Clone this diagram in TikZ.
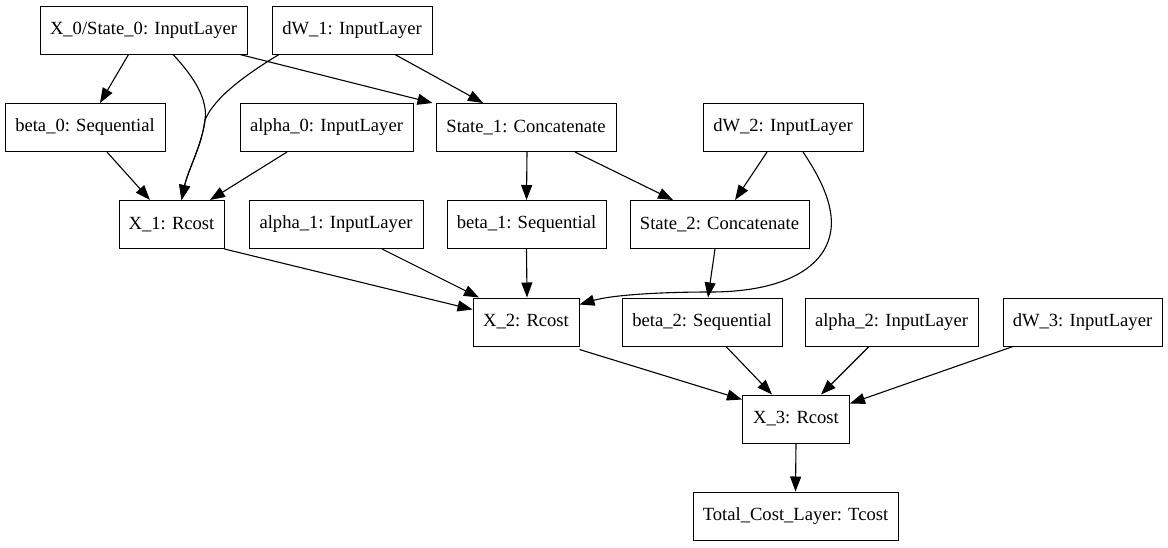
\documentclass[tikz,border=0pt]{standalone}
\usepackage{fontspec}
\setmainfont{Liberation Serif}
\usetikzlibrary{arrows.meta}
\begin{document}
\begin{tikzpicture}[x=1pt,y=-1pt,
  layer/.style={draw=black, line width=1pt, rectangle, minimum height=48pt, inner sep=0pt,
    font=\fontsize{18.6}{22}\selectfont},
  conn/.style={line width=1.1pt, -{Triangle[length=15pt,width=11pt]}}]
\useasboundingbox (0,0) rectangle (1168,547);
\fill[white] (0,0) rectangle (1168,547);
% row 1
\node[layer, minimum width=207pt] (x0) at (143.5,30) {X\_0/State\_0: InputLayer};
\node[layer, minimum width=160pt] (dw1) at (352,30) {dW\_1: InputLayer};
% row 2
\node[layer, minimum width=160pt] (beta0) at (85,127.5) {beta\_0: Sequential};
\node[layer, minimum width=173pt] (alpha0) at (326.5,127.5) {alpha\_0: InputLayer};
\node[layer, minimum width=180pt] (state1) at (526,127.5) {State\_1: Concatenate};
\node[layer, minimum width=160pt] (dw2) at (783,127.5) {dW\_2: InputLayer};
% row 3
\node[layer, minimum width=105pt] (x1) at (171.5,224.5) {X\_1: Rcost};
\node[layer, minimum width=174pt] (alpha1) at (336,224.5) {alpha\_1: InputLayer};
\node[layer, minimum width=159pt] (beta1) at (526.5,224.5) {beta\_1: Sequential};
\node[layer, minimum width=179pt] (state2) at (719.5,224.5) {State\_2: Concatenate};
% row 4
\node[layer, minimum width=106pt] (x2) at (526,322) {X\_2: Rcost};
\node[layer, minimum width=160pt] (beta2) at (702,322) {beta\_2: Sequential};
\node[layer, minimum width=173pt] (alpha2) at (891.5,322) {alpha\_2: InputLayer};
\node[layer, minimum width=159pt] (dw3) at (1082.5,322) {dW\_3: InputLayer};
% row 5
\node[layer, minimum width=107pt] (x3) at (796,419) {X\_3: Rcost};
% row 6
\node[layer, minimum width=205pt] (total) at (795.5,516) {Total\_Cost\_Layer: Tcost};
% edges
\draw[conn] ([xshift=-15pt]x0.south) -- ([xshift=15pt]beta0.north);
\draw[conn] ([xshift=29.5pt]x0.south) .. controls (195,78) and (208,100) .. (205,120)
   .. controls (202,145) and (188,170) .. ([xshift=10pt]x1.north);
\draw[conn] ([xshift=-73pt]dw1.south) .. controls (245,75) and (214,98) .. (205,120)
   .. controls (202,145) and (188,170) .. ([xshift=10pt]x1.north);
\draw[conn] ([xshift=96.5pt]x0.south) -- ([xshift=-3pt]state1.north west);
\draw[conn] ([xshift=43pt]dw1.south) -- ([xshift=-43pt]state1.north);
\draw[conn] ([xshift=22pt]beta0.south) -- ([xshift=-21.5pt]x1.north);
\draw[conn] ([xshift=-39.5pt]alpha0.south) -- ([xshift=38.5pt]x1.north);
\draw[conn] ([xshift=1pt]state1.south) -- (beta1.north);
\draw[conn] ([xshift=49pt]state1.south) -- ([xshift=-46.5pt]state2.north);
\draw[conn] ([xshift=-16pt]dw2.south) -- ([xshift=15.5pt]state2.north);
\draw[conn] ([xshift=20pt]dw2.south) .. controls (822,180) and (836,210) .. (830,235)
   .. controls (822,270) and (780,292) .. (710,292)
   .. controls (660,292) and (612,295) .. ([yshift=-7pt]x2.north east);
\draw[conn] (x1.south east) -- ([yshift=-12pt]x2.north west);
\draw[conn] ([xshift=46pt]alpha1.south) -- ([xshift=-47pt]x2.north);
\draw[conn] (beta1.south) -- ([xshift=1pt]x2.north);
\draw[conn] ([xshift=-4.5pt]state2.south) -- ([xshift=6pt]beta2.north);
\draw[conn] ([yshift=-3pt]x2.south east) -- ([yshift=-5pt]x3.north west);
\draw[conn] ([xshift=24pt]beta2.south) -- ([xshift=-24pt]x3.north);
\draw[conn] ([xshift=-22.5pt]alpha2.south) -- ([xshift=25pt]x3.north);
\draw[conn] ([xshift=-69.5pt]dw3.south) -- ([yshift=-9pt]x3.north east);
\draw[conn] (x3.south) -- (total.north);
\end{tikzpicture}
\end{document}
